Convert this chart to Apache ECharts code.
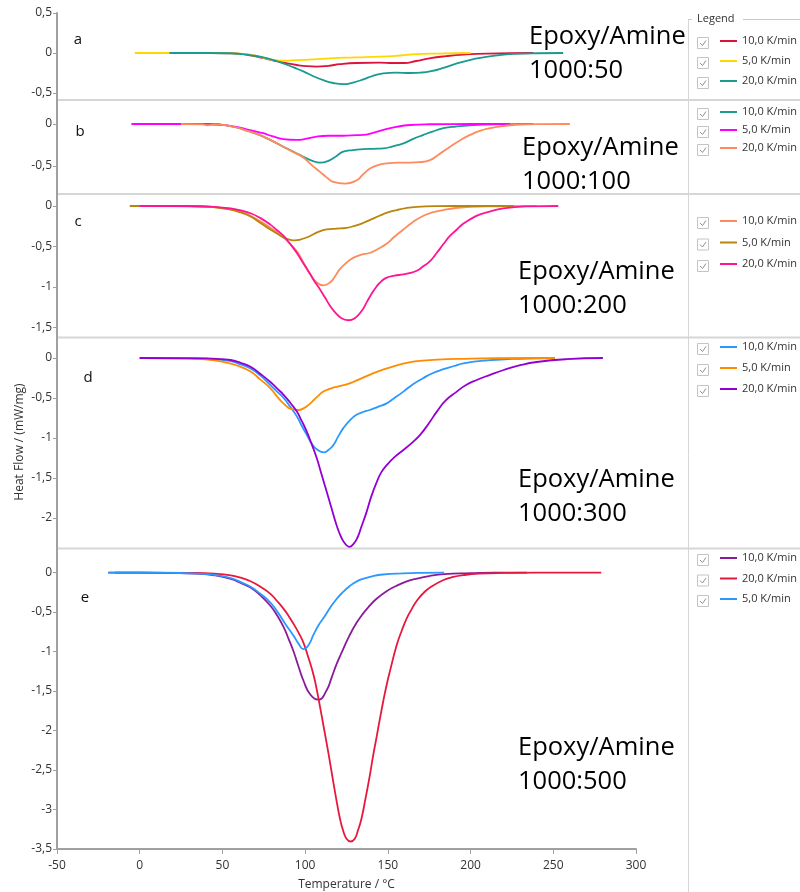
<!DOCTYPE html>
<html><head><meta charset="utf-8">
<script src="https://cdn.jsdelivr.net/npm/echarts@6/dist/echarts.min.js"></script>
<style>html,body{margin:0;padding:0;background:#fff}#c{width:800px;height:892px}</style>
</head><body><div id="c"></div><script>
// ---- data: [temperature °C, heat flow mW/mg] ----
const xTicks = [-50, 0, 50, 100, 150, 200, 250, 300];
const yTicksA = [0.5, 0, -0.5];
const yTicksB = [0, -0.5];
const yTicksC = [0, -0.5, -1, -1.5];
const yTicksD = [0, -0.5, -1, -1.5, -2];
const yTicksE = [0, -0.5, -1, -1.5, -2, -2.5, -3, -3.5];
const panelLetters = ['a', 'b', 'c', 'd', 'e'];
const panelTitles = ['Epoxy/Amine\n1000:50', 'Epoxy/Amine\n1000:100', 'Epoxy/Amine\n1000:200', 'Epoxy/Amine\n1000:300', 'Epoxy/Amine\n1000:500'];

const a10 = [[27,0],[45,0],[55,-0.005],[62,-0.015],[67,-0.03],[72,-0.05],[76,-0.07],[81,-0.095],[88,-0.125],[95,-0.15],[101,-0.165],[107,-0.17],[114,-0.16],[121,-0.14],[131,-0.125],[145,-0.12],[153,-0.125],[160,-0.125],[167,-0.1],[175,-0.067],[185,-0.04],[196,-0.02],[210,-0.007],[238,0]];
const a5 = [[-3,0],[20,0],[40,0],[55,-0.002],[62,-0.01],[67,-0.02],[71,-0.04],[75,-0.06],[80,-0.085],[86,-0.095],[95,-0.09],[105,-0.08],[115,-0.066],[130,-0.055],[145,-0.046],[155,-0.035],[165,-0.018],[180,-0.007],[200,0]];
const a20 = [[18,0],[40,0],[55,-0.003],[62,-0.015],[68,-0.03],[74.7,-0.055],[81,-0.09],[86.8,-0.13],[93,-0.18],[98.9,-0.23],[105,-0.29],[111,-0.34],[117,-0.375],[123,-0.39],[129,-0.37],[135.2,-0.33],[141,-0.285],[147.3,-0.255],[155,-0.245],[163.4,-0.25],[170,-0.245],[175.5,-0.23],[183,-0.19],[191.7,-0.13],[200,-0.085],[207.7,-0.055],[216,-0.03],[225.9,-0.012],[240,-0.003],[256,0]];

const b10 = [[20,0],[40,0],[50,-0.01],[55,-0.024],[62,-0.06],[68,-0.1],[74.7,-0.15],[81,-0.21],[86.8,-0.27],[93,-0.33],[98.9,-0.39],[104,-0.435],[109,-0.46],[115,-0.43],[119,-0.38],[123,-0.33],[129,-0.31],[135.2,-0.3],[141,-0.295],[147.3,-0.29],[153,-0.265],[159.4,-0.23],[165,-0.18],[171.5,-0.13],[177,-0.09],[183.6,-0.05],[191,-0.03],[199.7,-0.016],[215,-0.005],[238,0]];
const b5 = [[-5,0],[20,0],[40,0],[50,-0.01],[55,-0.024],[62,-0.05],[68,-0.08],[74.7,-0.11],[80,-0.145],[86.8,-0.18],[94.9,-0.19],[101,-0.175],[107,-0.15],[114,-0.14],[121,-0.14],[128,-0.135],[135.2,-0.13],[141,-0.105],[147.3,-0.07],[155,-0.035],[163.4,-0.012],[175,-0.003],[200,0],[224,0]];
const b20 = [[25,0],[38,-0.005],[41,-0.015],[45,-0.005],[50,-0.01],[55,-0.024],[62,-0.06],[68,-0.1],[74.7,-0.15],[81,-0.21],[86.8,-0.27],[93,-0.335],[98.9,-0.4],[104,-0.49],[109,-0.57],[113,-0.635],[117,-0.69],[124.1,-0.71],[131.2,-0.67],[135,-0.6],[139.2,-0.53],[144,-0.49],[149.3,-0.47],[156,-0.46],[163.4,-0.46],[169,-0.455],[175.5,-0.43],[181,-0.36],[187.6,-0.27],[194,-0.19],[199.7,-0.13],[206,-0.08],[211.8,-0.05],[218,-0.028],[225.9,-0.012],[240,-0.002],[260,0]];

const c10 = [[0,0],[30,-0.005],[45,-0.015],[55,-0.04],[61,-0.07],[67,-0.12],[73,-0.19],[79,-0.27],[83,-0.33],[87,-0.39],[91,-0.47],[95,-0.56],[99,-0.7],[103,-0.84],[107,-0.945],[111,-0.98],[115,-0.945],[118,-0.87],[121,-0.78],[125,-0.7],[129,-0.64],[134,-0.6],[139,-0.58],[144,-0.53],[149,-0.47],[154,-0.38],[159.4,-0.29],[165,-0.2],[171.5,-0.12],[177,-0.08],[183.6,-0.05],[191,-0.025],[200,-0.01],[215,-0.003],[240,0]];
const c5 = [[-6,0],[20,0],[35,-0.005],[45,-0.015],[55,-0.045],[61,-0.08],[67,-0.13],[73,-0.21],[79,-0.29],[83,-0.34],[87,-0.39],[90.5,-0.415],[93.9,-0.425],[97,-0.415],[100,-0.395],[103,-0.37],[108,-0.32],[113,-0.29],[119,-0.28],[125,-0.27],[130,-0.245],[135,-0.21],[140,-0.165],[145,-0.12],[150,-0.08],[155.4,-0.05],[161,-0.025],[167.5,-0.01],[180,-0.002],[200,0],[226,0]];
const c20 = [[0,0],[30,0],[45,-0.01],[55,-0.03],[61,-0.055],[67,-0.09],[73,-0.15],[79,-0.23],[83,-0.3],[87,-0.37],[91,-0.47],[95,-0.58],[99,-0.71],[103,-0.84],[106,-0.94],[109,-1.03],[112,-1.13],[115,-1.23],[118,-1.31],[122,-1.385],[126.1,-1.41],[130,-1.385],[134,-1.3],[137.2,-1.19],[140,-1.09],[143.3,-0.99],[146,-0.93],[149.3,-0.885],[154,-0.86],[159.4,-0.845],[163,-0.83],[167.5,-0.8],[171,-0.75],[175.5,-0.68],[179.5,-0.58],[183.6,-0.47],[187.5,-0.37],[191.7,-0.29],[195.5,-0.22],[199.7,-0.165],[205,-0.11],[209.8,-0.08],[219.8,-0.03],[235,-0.005],[253,0]];

const d10 = [[0,0],[30,-0.005],[45,-0.015],[55,-0.04],[61,-0.08],[67,-0.13],[73,-0.22],[79,-0.34],[83,-0.42],[87,-0.5],[91,-0.61],[95,-0.73],[98,-0.85],[101,-0.96],[104,-1.07],[107,-1.14],[111.4,-1.18],[114,-1.15],[117,-1.09],[120,-0.98],[123,-0.88],[127,-0.78],[131,-0.71],[135,-0.675],[139,-0.65],[144,-0.61],[149,-0.57],[154,-0.5],[159.4,-0.42],[165,-0.33],[171.5,-0.25],[177,-0.19],[183.6,-0.14],[190,-0.1],[195.7,-0.067],[210,-0.03],[225,-0.012],[240,-0.004],[251,0]];
const d5 = [[0,0],[30,-0.005],[45,-0.03],[55,-0.07],[61,-0.11],[67,-0.17],[73,-0.27],[79,-0.38],[83,-0.48],[87,-0.57],[91.8,-0.64],[95.9,-0.65],[99,-0.63],[103,-0.57],[107,-0.49],[111,-0.42],[115,-0.385],[119,-0.36],[124,-0.335],[129,-0.3],[134,-0.255],[139,-0.21],[145,-0.16],[151,-0.12],[157,-0.083],[163,-0.054],[171,-0.033],[180,-0.02],[196,-0.01],[215,-0.003],[251,0]];
const d20 = [[0,0],[40,-0.005],[50,-0.015],[55,-0.025],[61,-0.06],[67,-0.11],[73,-0.2],[79,-0.3],[83,-0.38],[87,-0.46],[91,-0.56],[95,-0.67],[98,-0.79],[101,-0.92],[104,-1.08],[107,-1.25],[110,-1.46],[113,-1.67],[116,-1.88],[119,-2.09],[122,-2.25],[124.5,-2.33],[126.7,-2.36],[129,-2.33],[131.5,-2.25],[134,-2.11],[137.2,-1.92],[140,-1.73],[143.3,-1.55],[146,-1.43],[149.3,-1.34],[154,-1.24],[159.4,-1.15],[164,-1.07],[169.5,-0.96],[175,-0.81],[179.6,-0.67],[185,-0.53],[191.7,-0.42],[197,-0.34],[203.7,-0.275],[211.8,-0.21],[220,-0.15],[230,-0.09],[240,-0.05],[258,-0.015],[280,0]];

const e10 = [[-15,0],[0,0],[20,-0.005],[35,-0.015],[45,-0.035],[55,-0.08],[61,-0.13],[67,-0.19],[73,-0.29],[79,-0.42],[83,-0.54],[87,-0.69],[90,-0.84],[93,-1.0],[96,-1.19],[99,-1.37],[103,-1.54],[108,-1.61],[113,-1.49],[116,-1.33],[119,-1.16],[123,-0.97],[127,-0.79],[131,-0.64],[135,-0.52],[139,-0.42],[143,-0.335],[149,-0.24],[155,-0.17],[161,-0.115],[167,-0.08],[175,-0.045],[184,-0.02],[200,-0.008],[215,0],[234,0]];
const e20 = [[-19,0],[0,0],[30,-0.005],[45,-0.015],[55,-0.035],[61,-0.065],[67,-0.11],[73,-0.18],[79,-0.27],[83,-0.36],[87,-0.46],[90,-0.55],[93,-0.65],[96,-0.76],[99,-0.89],[102,-1.08],[105,-1.29],[107,-1.48],[109,-1.7],[111,-1.93],[113,-2.16],[115,-2.4],[117,-2.65],[119,-2.89],[121,-3.11],[123,-3.27],[125,-3.37],[127.5,-3.405],[130,-3.37],[132,-3.26],[134,-3.12],[136.5,-2.86],[139,-2.58],[141,-2.33],[143.3,-2.07],[145.3,-1.84],[147.3,-1.62],[149.3,-1.42],[151.3,-1.245],[155.4,-0.915],[158.5,-0.73],[161.4,-0.58],[164.5,-0.46],[167.5,-0.356],[171.5,-0.26],[175.5,-0.19],[183.6,-0.095],[189.6,-0.055],[195.6,-0.033],[205,-0.015],[220,-0.005],[240,0],[279,0]];
const e5 = [[-19,0],[0,0],[20,-0.005],[35,-0.015],[45,-0.03],[55,-0.07],[62,-0.13],[67,-0.18],[73,-0.27],[79,-0.38],[84,-0.52],[88,-0.65],[93,-0.8],[96,-0.9],[99,-0.97],[102,-0.92],[105,-0.79],[108,-0.67],[111,-0.58],[115,-0.45],[119,-0.335],[123,-0.245],[127,-0.17],[131,-0.115],[135,-0.08],[141,-0.045],[147,-0.025],[159,-0.01],[170,-0.003],[184,0]];

const rateLabels = {r10: '10,0 K/min', r5: '5,0 K/min', r20: '20,0 K/min'};

// ---- layout / styling ----
const FONT = "'Open Sans', 'Noto Sans', sans-serif";
const panels = [
  {top: 13,  height: 87,  min: -0.5875, max: 0.5,   ticks: yTicksA, legendTop: 34,  gap: 6,
   series: [['a10', a10, '#dc143c', 'r10'], ['a5', a5, '#ffd700', 'r5'], ['a20', a20, '#1a9a90', 'r20']],
   letter: [78, 40], title: [529, 20]},
  {top: 100, height: 94,  min: -0.8333, max: 0.2857, ticks: yTicksB, legendTop: 105, gap: 4,
   series: [['b10', b10, '#1a9a90', 'r10'], ['b5', b5, '#ff00ff', 'r5'], ['b20', b20, '#ff8a5c', 'r20']],
   letter: [80, 132], title: [522, 131]},
  {top: 194, height: 143, min: -1.617, max: 0.148, ticks: yTicksC, legendTop: 214, gap: 7.5,
   series: [['c10', c10, '#ff8a5c', 'r10'], ['c5', c5, '#b8860b', 'r5'], ['c20', c20, '#ff1493', 'r20']],
   letter: [78, 222], title: [518, 255]},
  {top: 338, height: 210, min: -2.375, max: 0.25,  ticks: yTicksD, legendTop: 340, gap: 7,
   series: [['d10', d10, '#2a98ff', 'r10'], ['d5', d5, '#ff8c00', 'r5'], ['d20', d20, '#9400d3', 'r20']],
   letter: [88, 378], title: [518, 463]},
  {top: 549, height: 306, min: -3.5, max: 0.298,   ticks: yTicksE, legendTop: 551, gap: 6.5,
   series: [['e10', e10, '#8b1a9b', 'r10'], ['e20', e20, '#e8183c', 'r20'], ['e5', e5, '#2a98ff', 'r5']],
   letter: [85, 598], title: [518, 731]}
];

const nameMap = {};
const grid = [], xAxis = [], yAxis = [], series = [], legend = [], graphic = [];
const fmt = v => String(v).replace('.', ',');

panels.forEach((p, i) => {
  const last = i === panels.length - 1;
  grid.push({left: 57, width: 579, top: p.top, height: p.height});
  xAxis.push({
    type: 'value', gridIndex: i, min: -50, max: 300, interval: 50, show: last,
    axisLine: {show: true, onZero: false, lineStyle: {color: '#a0a0a0', width: 2}},
    axisTick: {show: true, length: 5, lineStyle: {color: '#a0a0a0'}},
    axisLabel: {show: true, fontFamily: FONT, fontSize: 12, color: '#333', margin: 11},
    splitLine: {show: false},
    name: last ? 'Temperature / °C' : '', nameLocation: 'middle', nameGap: 30,
    nameTextStyle: {fontFamily: FONT, fontSize: 12, color: '#333'}
  });
  yAxis.push({
    type: 'value', gridIndex: i, min: p.min, max: p.max,
    axisLine: {show: true, onZero: false, lineStyle: {color: '#a0a0a0', width: 2}},
    axisTick: {show: true, length: 4, customValues: p.ticks, lineStyle: {color: '#a0a0a0'}},
    axisLabel: {show: true, customValues: p.ticks, formatter: fmt, fontFamily: FONT, fontSize: 12, color: '#333', margin: 5},
    splitLine: {show: false}
  });
  const names = [];
  p.series.forEach(([id, data, color, rk]) => {
    nameMap[id] = rateLabels[rk];
    names.push(id);
    series.push({
      type: 'line', name: id, xAxisIndex: i, yAxisIndex: i, data: data,
      smooth: 0.5, showSymbol: false, symbol: 'none',
      color: color, itemStyle: {color: color},
      lineStyle: {color: color, width: 1.8}
    });
  });
  legend.push({
    data: names, orient: 'vertical', left: 720, top: p.legendTop, padding: 0,
    itemGap: p.gap, itemWidth: 17, itemHeight: 2, icon: 'rect',
    selectedMode: false,
    formatter: n => nameMap[n],
    textStyle: {fontFamily: FONT, fontSize: 11, color: '#333', lineHeight: 14}
  });
  const rowH = 14 + p.gap;
  for (let k = 0; k < 3; k++) {
    const cy = p.legendTop + 7 + k * rowH + 2;
    graphic.push({type: 'rect', left: 697, top: cy - 6, shape: {width: 11, height: 11},
      style: {fill: '#fff', stroke: '#c4c4c4', lineWidth: 1}, silent: true});
    graphic.push({type: 'polyline', shape: {points: [[700, cy], [702.5, cy + 2.5], [706, cy - 2.5]]},
      style: {stroke: '#909090', lineWidth: 1, fill: null}, silent: true});
  }
  graphic.push({type: 'text', x: p.letter[0], y: p.letter[1],
    style: {text: panelLetters[i], font: '15px ' + FONT, fill: '#111', align: 'center', verticalAlign: 'middle'}});
  graphic.push({type: 'text', x: p.title[0], y: p.title[1],
    style: {text: panelTitles[i], font: '25.5px ' + FONT, fill: '#000', lineHeight: 34, align: 'left', verticalAlign: 'top'}});
});

[100, 194, 337.5, 548.5].forEach(y => {
  graphic.push({type: 'line', shape: {x1: 57, y1: y, x2: 800, y2: y},
    style: {stroke: '#d6d6d6', lineWidth: 2}, z: -1, silent: true});
});
graphic.push({type: 'line', shape: {x1: 688.5, y1: 19, x2: 688.5, y2: 892}, style: {stroke: '#d6d6d6', lineWidth: 1}, silent: true});
graphic.push({type: 'line', shape: {x1: 688.5, y1: 19.5, x2: 692, y2: 19.5}, style: {stroke: '#c8c8c8', lineWidth: 1}, silent: true});
graphic.push({type: 'line', shape: {x1: 743, y1: 19.5, x2: 800, y2: 19.5}, style: {stroke: '#c8c8c8', lineWidth: 1}, silent: true});
graphic.push({type: 'text', x: 697, y: 19, style: {text: 'Legend', font: '11px ' + FONT, fill: '#333', verticalAlign: 'middle'}});
graphic.push({type: 'text', x: 20, y: 442, rotation: Math.PI / 2,
  style: {text: 'Heat Flow / (mW/mg)', font: '12px ' + FONT, fill: '#333', align: 'center', verticalAlign: 'middle'}});

const chart = echarts.init(document.getElementById('c'), null, {renderer: 'canvas'});
chart.setOption({
  animation: false, backgroundColor: '#fff',
  grid, xAxis, yAxis, series, legend, graphic
});
</script></body></html>
